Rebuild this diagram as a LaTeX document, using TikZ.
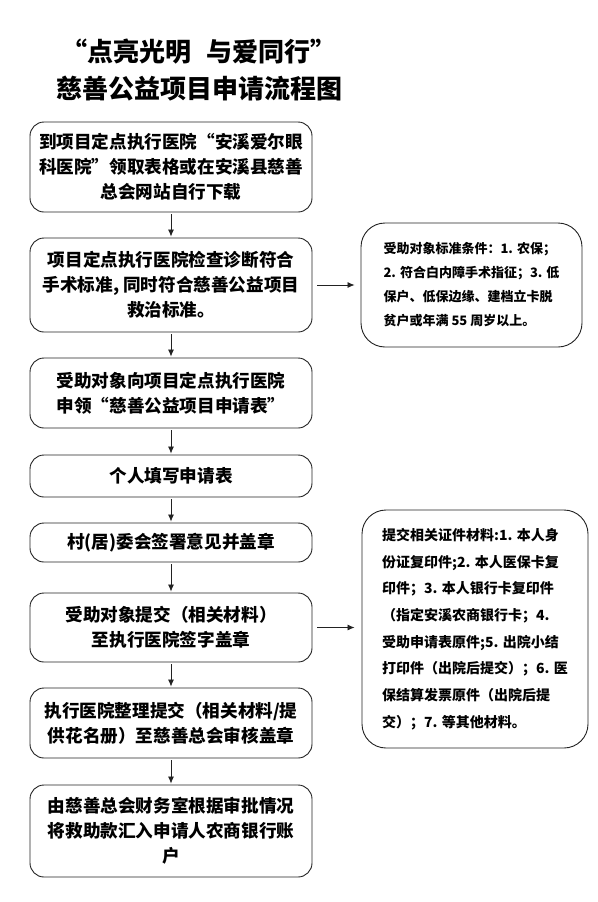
\documentclass[tikz,border=0pt]{standalone}
\usepackage{fontspec}
\newfontfamily\heiti{Noto Sans CJK SC}
\usetikzlibrary{arrows.meta,positioning}
\definecolor{flowInk}{HTML}{000000}
\definecolor{flowLine}{HTML}{222222}
\tikzset{
  every picture/.style={font=\heiti\bfseries, text=flowInk},
  flow box/.style={draw=flowLine, line width=0.9pt, rounded corners=14pt,
    fill=white, align=center, minimum width=282pt, inner sep=0pt,
    font=\heiti\bfseries\fontsize{17.6}{25}\selectfont},
  note box/.style={draw=flowLine, line width=0.9pt, rounded corners=24pt,
    fill=white, align=left, inner sep=0pt},
  flow arrow/.style={-{Latex[length=7pt,width=6pt]},
    draw=flowLine, line width=0.8pt}
}

\begin{document}
\begin{tikzpicture}[x=1pt,y=-1pt]
  \useasboundingbox (0,0) rectangle (597,902);
  \node[align=center, font=\heiti\bfseries\fontsize{26}{37}\selectfont] (title) at (199,70)
    {“点亮光明\hspace{15pt}与爱同行”\\慈善公益项目申请流程图};
  \node[flow box, minimum height=90pt] (fetch) at (171,167)
    {到项目定点执行医院“安溪爱尔眼\\科医院”领取表格或在安溪县慈善\\总会网站自行下载};
  \node[flow box, minimum height=94pt] (check) at (171,285)
    {项目定点执行医院检查诊断符合\\手术标准, 同时符合慈善公益项目\\救治标准。};
  \node[flow box, minimum height=70pt] (claim) at (171,393)
    {受助对象向项目定点执行医院\\申领“慈善公益项目申请表”};
  \node[flow box, minimum height=42pt] (fill) at (171,476) {个人填写申请表};
  \node[flow box, minimum height=39pt] (village) at (171,542.5) {村(居)委会签署意见并盖章};
  \node[flow box, minimum height=69pt] (submit) at (171,627.5)
    {受助对象提交（相关材料）\\至执行医院签字盖章};
  \node[flow box, minimum height=70pt] (review) at (171,723)
    {执行医院整理提交（相关材料/提\\供花名册）至慈善总会审核盖章};
  \node[flow box, minimum height=92pt] (remit) at (171,831)
    {由慈善总会财务室根据审批情况\\将救助款汇入申请人农商银行账\\户};

  \node[note box, minimum width=221pt, minimum height=124pt,
    font=\heiti\bfseries\fontsize{13}{24}\selectfont] (criteria) at (471.5,285)
    {受助对象标准条件：1. 农保；\\2. 符合白内障手术指征；3. 低\\保户、低保边缘、建档立卡脱\\贫户或年满 55 周岁以上。};
  \node[note box, minimum width=226pt, minimum height=238pt,
    font=\heiti\bfseries\fontsize{14}{26.7}\selectfont] (docs) at (475,629)
    {提交相关证件材料:1. 本人身\\份证复印件;2. 本人医保卡复\\印件；3. 本人银行卡复印件\\（指定安溪农商银行卡；4.\\受助申请表原件;5. 出院小结\\打印件（出院后提交）；6. 医\\保结算发票原件（出院后提\\交）；7. 等其他材料。};

  \foreach \a/\b in {fetch/check, check/claim, claim/fill, fill/village,
      village/submit, submit/review, review/remit}
    \draw[flow arrow, shorten <=2pt, shorten >=1pt] (\a) -- (\b);
  \draw[flow arrow, shorten <=5pt, shorten >=6pt] (check) -- (criteria);
  \draw[flow arrow, shorten <=5pt, shorten >=7pt] (submit.east) -- (submit.east -| docs.west);
\end{tikzpicture}
\end{document}
